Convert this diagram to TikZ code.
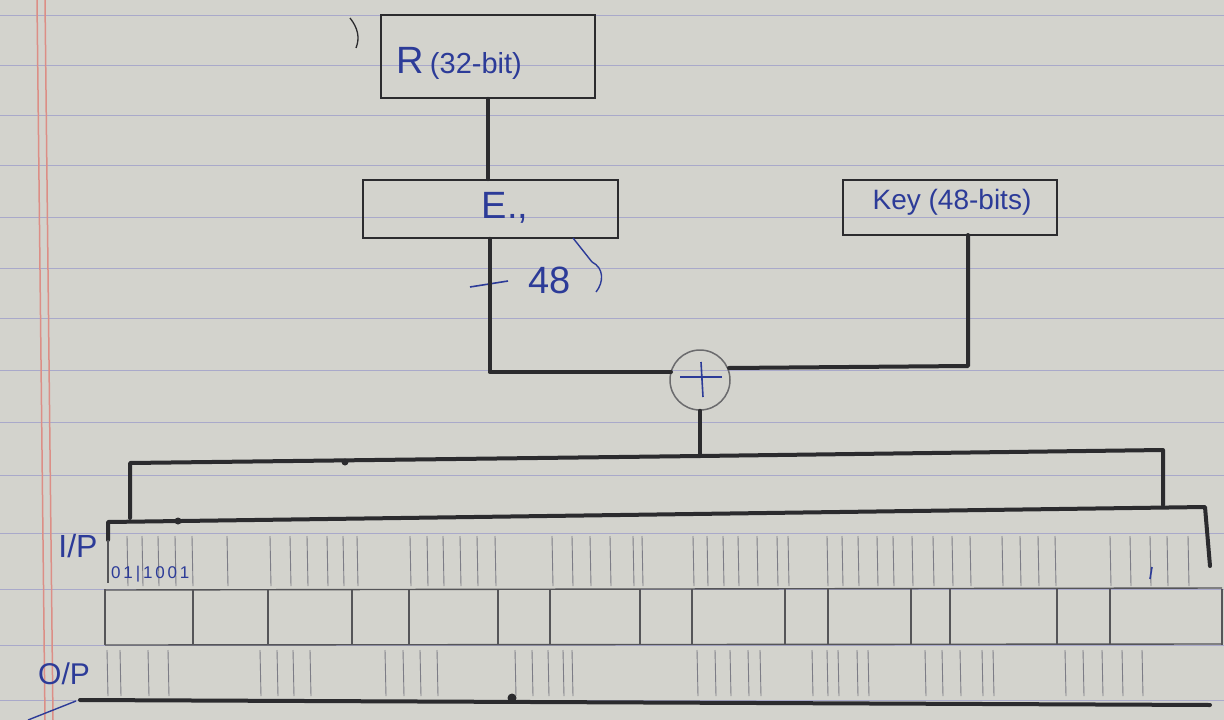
\documentclass[tikz,border=0pt]{standalone}
\usepackage{fontspec}
\setmainfont{Liberation Sans}
\usetikzlibrary{calc}
\definecolor{paper}{HTML}{D3D3CD}
\definecolor{rule}{HTML}{A9A9CA}
\definecolor{margin}{HTML}{DC8E86}
\definecolor{ink}{HTML}{2B2B2E}
\definecolor{pen}{HTML}{2C3B98}
\definecolor{pencil}{HTML}{7C7C86}
\tikzset{
  blockbox/.style={draw=ink, line width=1.6pt, rectangle, inner sep=0pt},
  wire/.style={draw=ink, line width=4pt, line cap=round, line join=round},
  thin/.style={draw=pencil, line width=0.9pt},
  boxrule/.style={draw=ink!80, line width=1.4pt},
  pentext/.style={text=pen, inner sep=0pt, anchor=base west},
}
\begin{document}
\begin{tikzpicture}[x=1pt, y=-1pt]
\useasboundingbox (0,0) rectangle (1224,720);
% paper
\fill[paper] (0,0) rectangle (1224,720);
\foreach \yy in {15,65,115,165,217,268,318,370,422,475,533,589,645,700}
  \draw[rule, line width=1pt] (0,\yy) -- (1224,\yy);
\draw[margin, line width=1.5pt] (37,0) -- (45,720);
\draw[margin, line width=1.5pt] (45,0) -- (53,720);

% blocks
\node[blockbox, minimum width=214pt, minimum height=83pt] (R) at (488,56.5) {};
\node[pentext, font=\fontsize{38}{38}\selectfont] (Rt) at (396,73) {R\,{\fontsize{29}{29}\selectfont(32-bit)}};
\node[blockbox, minimum width=255pt, minimum height=58pt] (E) at (490.5,209) {};
\node[text=pen, font=\fontsize{38}{38}\selectfont] (Et) at (505,208) {E.,};
\node[blockbox, minimum width=214pt, minimum height=55pt] (K) at (950,207.5) {};
\node[text=pen, font=\fontsize{28}{28}\selectfont] (Kt) at (952,202) {Key (48-bits)};
\node[draw=ink!70, line width=1.5pt, circle, minimum size=60pt, inner sep=0pt] (X) at (700,380) {};
\draw[pen, line width=1.6pt] ($(X.center)+(-20,-3)$) -- ($(X.center)+(22,-3)$);
\draw[pen, line width=1.6pt] ($(X.center)+(1,-18)$) -- ($(X.center)+(3,17)$);

% stray pen marks
\draw[ink, line width=1.3pt] (350,18) .. controls (358,28) and (360,38) .. (356,48);
\draw[pen, line width=1.4pt] (573,238) -- (592,262);
\draw[pen, line width=1.4pt] (592,262) .. controls (604,268) and (604,282) .. (596,292);
\draw[pen, line width=1.6pt] (470,287) -- (508,281);
\node[text=pen, font=\fontsize{38}{38}\selectfont] (w48) at (550,280) {48};

% connectors
\coordinate (Eo) at ($(E.south)+(-1,0)$);
\coordinate (Ko) at (968,235);
\coordinate (Xs) at (700,456);
\coordinate (busL) at (130,463);
\coordinate (busR) at (1163,450);
\coordinate (busLd) at (130,518);
\coordinate (busRd) at (1163,505);
\draw[wire] (R.south) -- (R.south |- E.north);
\draw[wire] (Eo) -- (Eo |- 0,372) -- ($(X.center)+(-29,-8)$);
\draw[wire] (Ko) -- (968,366) -- ($(X.center)+(29,-12)$);
\draw[wire] (X.south) -- (Xs);
\draw[wire] (busLd) -- (busL) -- (Xs) -- (busR) -- (busRd);
\fill[ink] (345,462) circle (3.5pt);

% input register
\coordinate (inL) at (108,540);
\coordinate (inTL) at (108,522);
\coordinate (inTR) at (1205,507);
\coordinate (inR) at (1210,566);
\draw[wire] (inL) -- (inTL) -- (inTR) -- (inR);
\fill[ink] (178,521) circle (3.5pt);
\foreach \xx in {127,142,158,175,192,227,270,290,307,327,343,357,410,427,443,460,477,495,552,572,590,610,633,642,693,707,723,738,757,777,788,827,842,858,877,893,912,933,952,970,1002,1020,1038,1055,1110,1130,1150,1167,1188}
  \draw[thin] (\xx,536) -- (\xx+1,586);
\draw[ink!80, line width=1.4pt] (108,540) -- (108,583);
\node[pentext, font=\fontsize{17}{17}\selectfont] (bits) at (111,578) {0\,1\,|\,1\,0\,0\,1};
\draw[pen, line width=1.6pt] (1152,567) -- (1150,579);
\node[text=pen, font=\fontsize{32}{32}\selectfont] (ip) at (78,546) {I/P};

% substitution boxes
\draw[boxrule] (105,590) -- (1222,588);
\draw[boxrule] (105,645) -- (1222,644);
\foreach \xx in {105,193,268,352,409,498,550,640,692,785,828,911,950,1057,1110,1222}
  \draw[boxrule] (\xx,589) -- (\xx,645);

% output register
\foreach \xx in {107,120,148,168,260,277,293,310,385,403,420,437,515,532,548,563,572,697,715,730,748,760,812,827,838,857,868,925,942,960,982,993,1065,1083,1102,1122,1142}
  \draw[thin] (\xx,650) -- (\xx+1,696);
\coordinate (outL) at (80,700);
\coordinate (outR) at (1210,705);
\draw[wire] (outL) -- (outR);
\fill[ink] (512,698) circle (4.5pt);
\node[text=pen, font=\fontsize{30}{30}\selectfont] (op) at (64,674) {O/P};
\draw[pen, line width=1.4pt] (28,720) -- (76,701);
\end{tikzpicture}
\end{document}
